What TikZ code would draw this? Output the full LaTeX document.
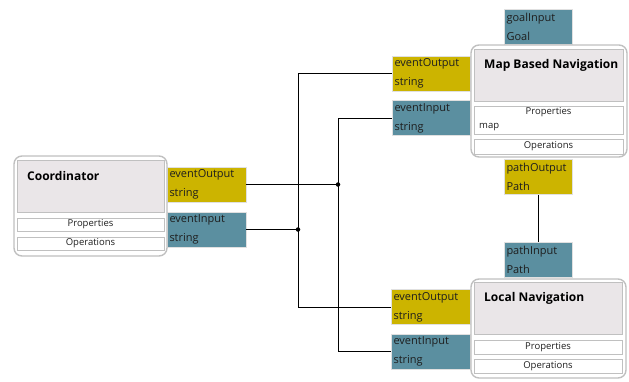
\documentclass[tikz,border=0pt]{standalone}
\usepackage{fontspec}
\setmainfont{Open Sans}
\usetikzlibrary{calc}

\definecolor{outcol}{RGB}{204,180,0}
\definecolor{incol}{RGB}{91,143,160}
\definecolor{headcol}{RGB}{234,230,232}
\definecolor{framecol}{RGB}{192,192,192}
\definecolor{textcol}{RGB}{30,30,30}

\tikzset{
  port/.style={draw=black!12, line width=0.8pt, inner sep=0pt, minimum height=35pt,
    align=left, font=\fontsize{11}{13}\selectfont, text=textcol},
  outport/.style={port, fill=outcol},
  inport/.style={port, fill=incol},
  blockframe/.style={draw=framecol, line width=1.4pt, fill=white, rounded corners=8pt},
  blockhead/.style={draw=framecol, line width=0.8pt, fill=headcol},
  blockpart/.style={draw=framecol, line width=0.8pt, fill=white},
  title/.style={font=\bfseries\fontsize{12}{14}\selectfont, text=black, anchor=west, inner sep=0pt},
  partlabel/.style={font=\fontsize{9.5}{11}\selectfont, text=textcol, inner sep=0pt},
  wire/.style={black, line width=0.9pt},
  junction/.style={circle, fill=black, inner sep=0pt, minimum size=4.5pt}
}

% a port: name, centre, width, style, two text lines
\newcommand{\portnode}[6]{%
  \node[#4, minimum width=#3pt, text width=#3pt-5pt] (#1) at (#2) {#5\\[6pt]#6};}

\begin{document}
\begin{tikzpicture}[x=1pt,y=-1pt]
\useasboundingbox (0,0) rectangle (629,381);

% ---- ports ----
\portnode{coordOut}{206.5,184.5}{79}{outport}{eventOutput}{string}
\portnode{coordIn}{206.5,229.5}{79}{inport}{eventInput}{string}

\portnode{goalIn}{538,27}{68}{inport}{goalInput}{Goal}
\portnode{mapOut}{431,73.5}{78}{outport}{eventOutput}{string}
\portnode{mapIn}{431,118}{78}{inport}{eventInput}{string}
\portnode{pathOut}{538,177}{68}{outport}{pathOutput}{Path}

\portnode{pathIn}{538,260}{68}{inport}{pathInput}{Path}
\portnode{locOut}{430.5,307}{79}{outport}{eventOutput}{string}
\portnode{locIn}{430.5,351.5}{79}{inport}{eventInput}{string}

% ---- blocks ----
% Coordinator
\draw[blockframe] (14,156) rectangle (167,256);
\draw[blockhead] (17,160) rectangle (164,212);
\draw[blockpart] (17,218) rectangle (164,231);
\draw[blockpart] (17,237) rectangle (164,250);
\node[title] (coordTitle) at (27,176) {Coordinator};
\node[partlabel] (coordProps) at (90.5,224.5) {Properties};
\node[partlabel] (coordOps) at (90.5,243.5) {Operations};

% Map Based Navigation
\draw[blockframe] (471,45) rectangle (627,157);
\draw[blockhead] (474,49) rectangle (623,101);
\draw[blockpart] (474,106) rectangle (623,134);
\draw[blockpart] (474,139) rectangle (623,154);
\node[title] (mapTitle) at (484,65) {Map Based Navigation};
\node[partlabel] (mapProps) at (548.5,112.5) {Properties};
\node[partlabel, anchor=west] (mapAttr) at (479,127) {map};
\node[partlabel] (mapOps) at (548.5,146.5) {Operations};

% Local Navigation
\draw[blockframe] (471,279) rectangle (626,378);
\draw[blockhead] (474,282) rectangle (622,334);
\draw[blockpart] (474,340) rectangle (622,354);
\draw[blockpart] (474,359) rectangle (622,373);
\node[title] (locTitle) at (484,298) {Local Navigation};
\node[partlabel] (locProps) at (548,347) {Properties};
\node[partlabel] (locOps) at (548,366) {Operations};

% ---- connectors ----
\coordinate (jOut) at (338,184.5);
\coordinate (jIn) at (298,229.5);

\draw[wire] (coordOut.east) -- (jOut);
\draw[wire] (jOut) |- (mapIn.west);
\draw[wire] (jOut) |- (locIn.west);
\node[junction] at (jOut) {};

\draw[wire] (coordIn.east) -- (jIn);
\draw[wire] (jIn) |- (mapOut.west);
\draw[wire] (jIn) |- (locOut.west);
\node[junction] at (jIn) {};

\draw[wire] (pathOut.south) -- (pathIn.north);
\end{tikzpicture}
\end{document}
